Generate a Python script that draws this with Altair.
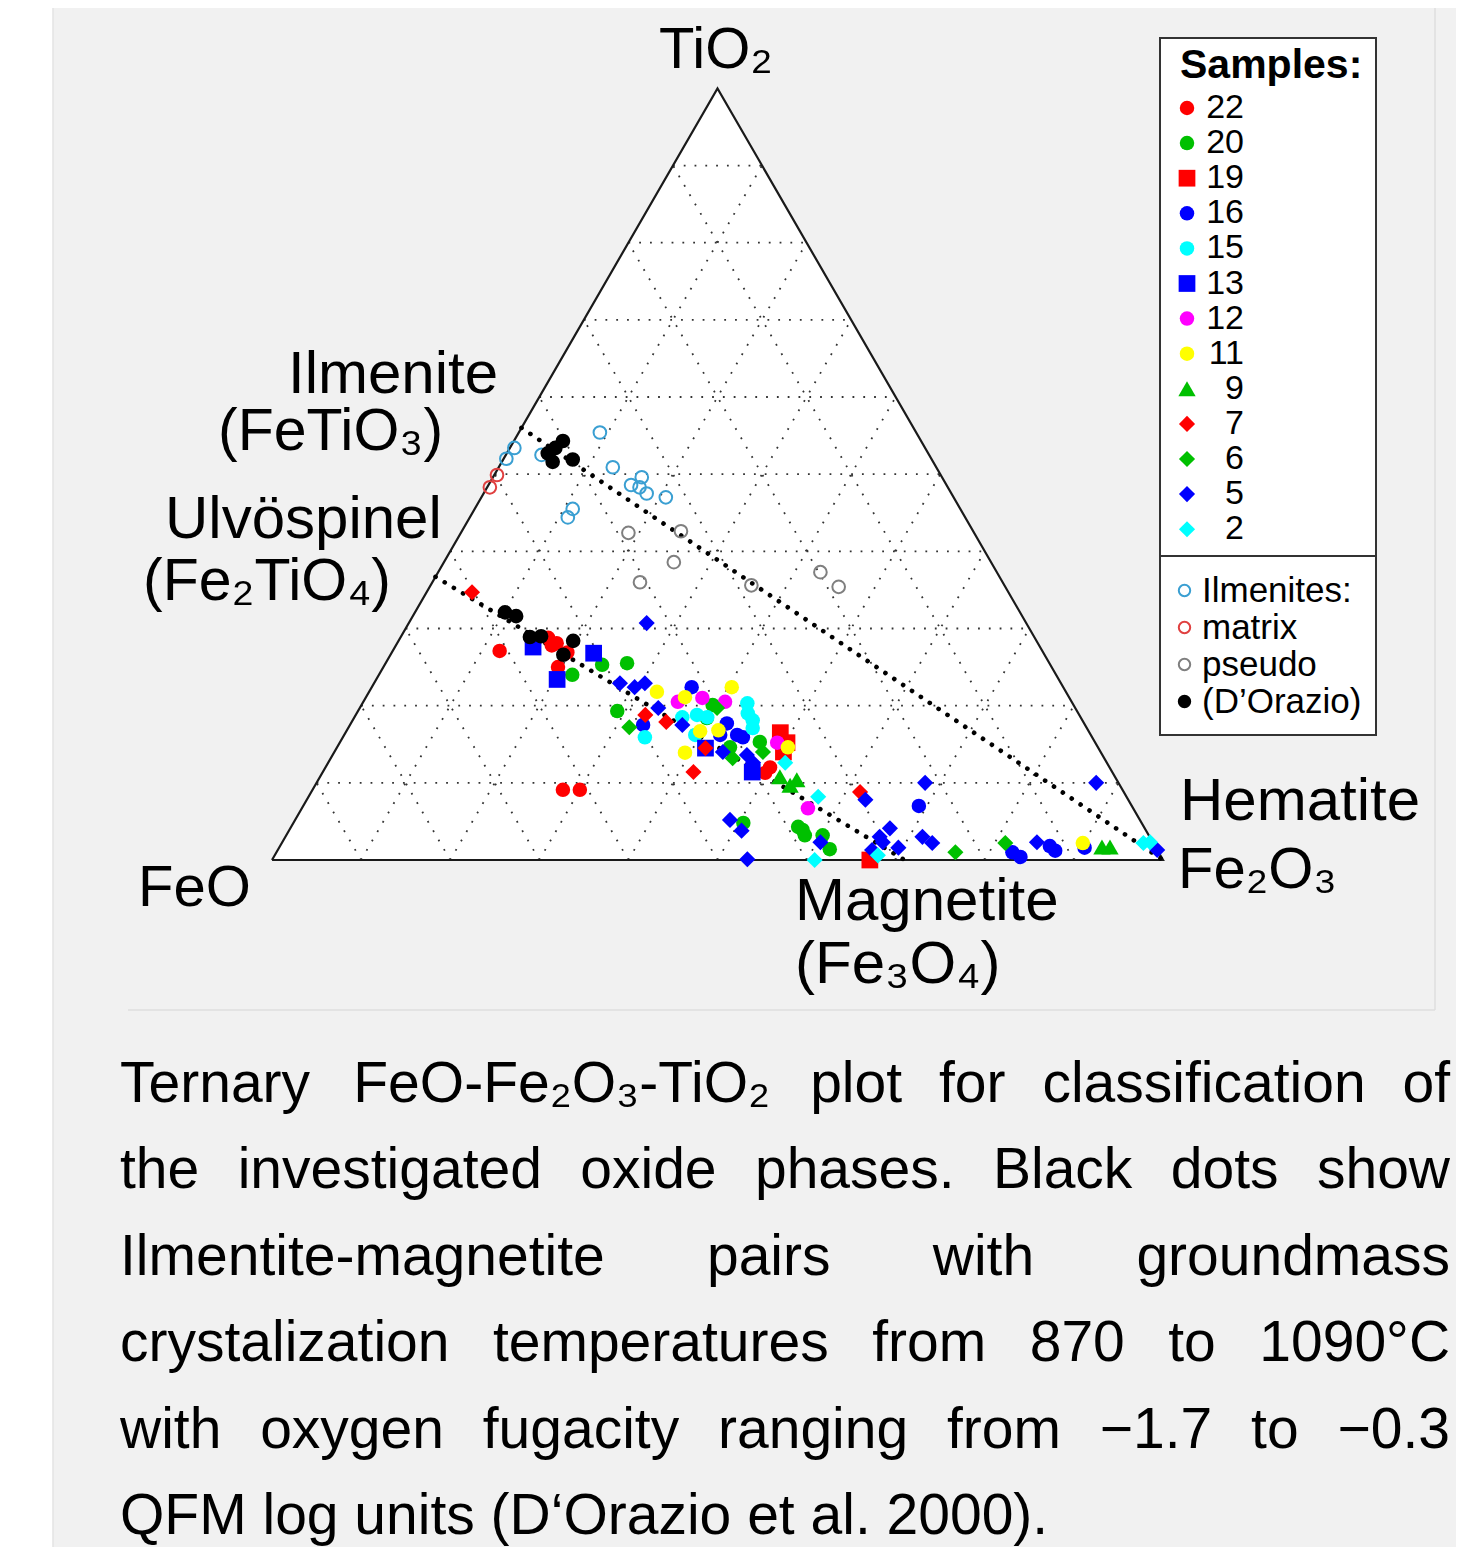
import altair as alt
import pandas as pd

W, H = 1448, 1539
FONT = "Liberation Sans"
X0, Y0, SIDE = 264.0, 852.0, 891.0

# ---------------- data: wt% TiO2 and Fe2O3 (FeO = remainder) ----------------
SAMPLE_ORDER = ["22", "20", "19", "16", "15", "13", "12", "11", "9", "7", "6", "5", "2"]
SAMPLE_COLORS = ["#ff0000", "#00c000", "#ff0000", "#0000ff", "#00ffff", "#0000ff", "#ff00ff",
                 "#ffff00", "#00c000", "#ff0000", "#00c000", "#0000ff", "#00ffff"]
SAMPLE_SHAPES = ["circle", "circle", "square", "circle", "circle", "square", "circle", "circle",
                 "triangle-up", "diamond", "diamond", "diamond", "diamond"]
SAMPLE_SIZES = [210, 210, 280, 210, 210, 280, 210, 210, 300, 260, 260, 260, 260]

S22_TIO2 = [27.1, 28.8, 28.1, 26.9, 25.0, 27.8, 9.1, 9.1, 12.0, 11.3]
S22_FE2O3 = [12.0, 16.6, 17.9, 19.7, 19.6, 17.5, 28.1, 30.0, 49.9, 49.7]
S20_TIO2 = [24.0, 25.3, 25.5, 19.3, 20.1, 15.3, 14.6, 4.8, 4.3, 3.2, 3.2, 1.4, 3.9, 18.4]
S20_FE2O3 = [21.7, 24.4, 27.1, 29.1, 39.4, 47.1, 44.1, 50.5, 56.9, 58.2, 60.2, 61.9, 57.6, 39.6]
S19_TIO2 = [16.5, 15.2, 0.0, 14.0]
S19_FE2O3 = [48.8, 50.2, 67.1, 50.4]
S16_TIO2 = [17.5, 22.4, 17.7, 16.2, 15.9, 16.2, 7.0, 1.0, 0.4, 1.8, 1.2, 1.6]
S16_FE2O3 = [32.9, 35.9, 42.2, 44.1, 44.9, 42.2, 69.1, 82.6, 83.8, 86.4, 87.3, 90.4]
S15_TIO2 = [15.9, 18.5, 18.8, 18.5, 20.3, 19.0, 18.1, 17.1, 16.2]
S15_FE2O3 = [33.9, 36.8, 38.3, 39.6, 43.2, 43.9, 44.9, 45.4, 39.4]
S13_TIO2 = [27.6, 26.8, 23.4, 14.5, 11.4]
S13_FE2O3 = [15.5, 22.7, 20.3, 41.4, 48.2]
S12_TIO2 = [20.5, 21.0, 20.5, 15.2, 6.7]
S12_FE2O3 = [35.3, 37.8, 40.6, 49.1, 56.8]
S11_TIO2 = [21.8, 21.1, 22.4, 13.9, 16.7, 16.8, 14.6, 2.2]
S11_FE2O3 = [32.3, 35.8, 40.4, 39.4, 39.7, 41.7, 50.6, 89.9]
S9_TIO2 = [10.8, 9.7, 10.4, 1.7, 1.7]
S9_FE2O3 = [51.6, 53.3, 53.7, 92.3, 93.2]
S7_TIO2 = [34.7, 18.8, 17.9, 11.4, 14.5, 8.8]
S7_FE2O3 = [5.1, 32.5, 35.3, 41.6, 41.4, 61.6]
S6_TIO2 = [17.2, 19.7, 13.2, 1.0, 2.2, 14.0]
S6_FE2O3 = [31.5, 40.1, 45.1, 76.2, 81.2, 48.1]
S5_TIO2 = [30.7, 22.9, 22.4, 22.9, 19.7, 17.5, 14.0, 13.6, 12.6, 5.2, 3.8, 0.1, 2.3, 7.8,
           10.0, 4.1, 3.0, 2.3, 1.3, 1.6, 3.0, 2.2, 2.3, 10.0, 1.3]
S5_FE2O3 = [26.7, 27.6, 29.5, 30.4, 33.5, 37.3, 43.6, 46.5, 47.7, 48.8, 50.8, 53.3, 60.4, 62.7,
            68.3, 67.3, 66.7, 67.4, 66.7, 69.5, 71.5, 73.0, 84.7, 87.5, 98.7]
S2_TIO2 = [12.6, 8.2, 0.0, 0.6, 2.2, 2.3]
S2_FE2O3 = [51.3, 57.2, 60.9, 67.7, 96.7, 97.4]

KIND_ORDER = ["Ilmenites:", "matrix", "pseudo", "(D’Orazio)"]
KIND_STROKE = ["#3a9fd2", "#e04040", "#7f7f7f", "#000000"]
KIND_FILL = ["transparent", "transparent", "transparent", "#000000"]
ILM_TIO2 = [55.4, 53.4, 52.0, 52.5, 50.9, 49.6, 48.6, 48.3, 47.5, 47.0, 45.5, 44.4]
ILM_FE2O3 = [9.1, 0.5, 0.3, 4.0, 12.8, 16.7, 16.0, 17.1, 18.3, 20.7, 11.0, 11.0]
MATRIX_TIO2 = [49.9, 48.3]
MATRIX_FE2O3 = [0.3, 0.3]
PSEUDO_TIO2 = [42.4, 42.6, 38.6, 36.0, 35.6, 37.3, 35.4]
PSEUDO_FE2O3 = [18.8, 24.6, 25.8, 23.3, 36.0, 42.9, 45.9]
DORAZIO_TIO2 = [54.3, 53.4, 52.7, 51.6, 51.9, 32.1, 31.6, 28.9, 29.0, 28.4, 26.6]
DORAZIO_FE2O3 = [5.5, 5.1, 4.6, 5.7, 7.8, 10.1, 11.6, 14.5, 15.7, 19.6, 19.4]

# reference joins (ilmenite-hematite, ulvospinel-magnetite): TiO2, Fe2O3 of end members
JOIN_T1 = [56.0, 36.7]
JOIN_H1 = [0.0, 0.0]
JOIN_T2 = [0.0, 0.0]
JOIN_H2 = [100.0, 71.0]

GRID_STEPS = [10, 20, 30, 40, 50, 60, 70, 80, 90]

ANN_TEXT = ["TiO₂", "Ilmenite", "(FeTiO₃)", "Ulvöspinel", "(Fe₂TiO₄)", "FeO",
            "Hematite", "Fe₂O₃", "Magnetite", "(Fe₃O₄)"]

CAPTION_LINES = [
    "Ternary FeO-Fe₂O₃-TiO₂ plot for classification of",
    "the investigated oxide phases. Black dots show",
    "Ilmentite-magnetite pairs with groundmass",
    "crystalization temperatures from 870 to 1090°C",
    "with oxygen fugacity ranging from −1.7 to −0.3",
    "QFM log units (D‘Orazio et al. 2000).",
]

# ---------------- tables ----------------
samples_list = [("22", S22_TIO2, S22_FE2O3), ("20", S20_TIO2, S20_FE2O3), ("19", S19_TIO2, S19_FE2O3),
                ("16", S16_TIO2, S16_FE2O3), ("15", S15_TIO2, S15_FE2O3), ("13", S13_TIO2, S13_FE2O3),
                ("12", S12_TIO2, S12_FE2O3), ("11", S11_TIO2, S11_FE2O3), ("9", S9_TIO2, S9_FE2O3),
                ("7", S7_TIO2, S7_FE2O3), ("6", S6_TIO2, S6_FE2O3), ("5", S5_TIO2, S5_FE2O3),
                ("2", S2_TIO2, S2_FE2O3)]
rows = []
for name, ts, hs in samples_list:
    for t, h in zip(ts, hs):
        rows.append({"sample": name, "tio2": t, "fe2o3": h})
samples_df = pd.DataFrame(rows)

krows = []
for name, ts, hs in [(KIND_ORDER[0], ILM_TIO2, ILM_FE2O3), (KIND_ORDER[1], MATRIX_TIO2, MATRIX_FE2O3),
                     (KIND_ORDER[2], PSEUDO_TIO2, PSEUDO_FE2O3), (KIND_ORDER[3], DORAZIO_TIO2, DORAZIO_FE2O3)]:
    for t, h in zip(ts, hs):
        krows.append({"kind": name, "tio2": t, "fe2o3": h})
kinds_df = pd.DataFrame(krows)

grows = []
for k in GRID_STEPS:
    grows.append({"t1": k, "h1": 0, "t2": k, "h2": 100 - k})      # const TiO2
    grows.append({"t1": 0, "h1": k, "t2": 100 - k, "h2": k})      # const Fe2O3
    grows.append({"t1": 0, "h1": 100 - k, "t2": 100 - k, "h2": 0})  # const FeO
grid_df = pd.DataFrame(grows)
join_df = pd.DataFrame({"t1": JOIN_T1, "h1": JOIN_H1, "t2": JOIN_T2, "h2": JOIN_H2})
corner_df = pd.DataFrame({"tio2": [0, 100, 0, 0], "fe2o3": [0, 0, 100, 0], "i": [0, 1, 2, 3]})

# ---------------- helpers ----------------
xs = alt.Scale(domain=[0, W], nice=False, zero=False)
ys = alt.Scale(domain=[0, H], nice=False, zero=False, reverse=True)


def PX(t, h):
    return f"{X0} + {SIDE}*(datum.{h} + datum.{t}/2)/100"


def PY(t):
    return f"{Y0} - {SIDE}*0.8660254*datum.{t}/100"


def X(f):
    return alt.X(f, type="quantitative", scale=xs, axis=None)


def Y(f):
    return alt.Y(f, type="quantitative", scale=ys, axis=None)


# ---------------- layout layers ----------------
panel = alt.Chart(pd.DataFrame({"a": [45], "b": [W + 2], "c": [-2], "d": [H + 2]})).mark_rect(
    color="#f1f1f1", stroke="#e3e3e3", strokeWidth=1.5
).encode(x=X("a"), x2="b", y=Y("c"), y2="d")

frame = alt.Chart(pd.DataFrame({"a": [1427, 120], "b": [1427, 1427], "c": [-2, 1002], "d": [1002, 1002]})).mark_rule(
    color="#dedede", strokeWidth=1.5
).encode(x=X("a"), x2="b", y=Y("c"), y2="d")

# legend frame (box and separator between the two legends)
legbox = alt.Chart(pd.DataFrame({"a": [1152], "b": [1368], "c": [30], "d": [727]})).mark_rect(
    fill="white", stroke="#333333", strokeWidth=2
).encode(x=X("a"), x2="b", y=Y("c"), y2="d")
legsep = alt.Chart(pd.DataFrame({"a": [1152], "b": [1368], "c": [548]})).mark_rule(
    color="#333333", strokeWidth=2
).encode(x=X("a"), x2="b", y=Y("c"))

tri_fill = alt.Chart(corner_df.iloc[:3]).transform_calculate(
    px=PX("tio2", "fe2o3"), py=PY("tio2"), base=str(Y0)
).mark_area(color="white").encode(x=X("px"), y=Y("py"), y2="base:Q")

grid = alt.Chart(grid_df).transform_calculate(
    x1=PX("t1", "h1"), y1=PY("t1"), x2=PX("t2", "h2"), y2=PY("t2")
).mark_rule(color="#333333", strokeWidth=1.8, strokeDash=[1.8, 9.0]).encode(
    x=X("x1"), y=Y("y1"), x2="x2:Q", y2="y2:Q")

tri_line = alt.Chart(corner_df).transform_calculate(
    px=PX("tio2", "fe2o3"), py=PY("tio2")
).mark_line(color="#1a1a1a", strokeWidth=2.2, strokeJoin="miter").encode(
    x=X("px"), y=Y("py"), order="i:Q")

joins = alt.Chart(join_df).transform_calculate(
    x1=PX("t1", "h1"), y1=PY("t1"), x2=PX("t2", "h2"), y2=PY("t2")
).mark_rule(color="black", strokeWidth=4.6, strokeCap="round", strokeDash=[0.1, 10.6]).encode(
    x=X("x1"), y=Y("y1"), x2="x2:Q", y2="y2:Q")

leg1 = alt.Legend(
    title="Samples:", orient="none", legendX=1172, legendY=38, padding=0,
    titleFont=FONT, titleFontSize=41, titleFontWeight="bold", titleColor="black", titlePadding=4,
    titleLimit=400,
    labelFont=FONT, labelFontSize=34, labelColor="black", labelAlign="right", labelOffset=40,
    symbolOffset=-10, rowPadding=1.1, symbolStrokeWidth=0,
)
pts = alt.Chart(samples_df).transform_calculate(
    px=PX("tio2", "fe2o3"), py=PY("tio2")
).mark_point(filled=True, opacity=1, strokeWidth=0).encode(
    x=X("px"), y=Y("py"),
    color=alt.Color("sample:N", scale=alt.Scale(domain=SAMPLE_ORDER, range=SAMPLE_COLORS), legend=leg1),
    shape=alt.Shape("sample:N", scale=alt.Scale(domain=SAMPLE_ORDER, range=SAMPLE_SHAPES), legend=leg1),
    size=alt.Size("sample:N", scale=alt.Scale(type="ordinal", domain=SAMPLE_ORDER, range=SAMPLE_SIZES), legend=leg1),
)

leg2 = alt.Legend(
    title=None, orient="none", legendX=1159, legendY=565, padding=0,
    labelFont=FONT, labelFontSize=35, labelColor="black", labelOffset=0,
    symbolOffset=0, rowPadding=1, symbolStrokeWidth=2, symbolSize=130,
)
kinds = alt.Chart(kinds_df).transform_calculate(
    px=PX("tio2", "fe2o3"), py=PY("tio2")
).mark_point(shape="circle", size=160, strokeWidth=2, opacity=1).encode(
    x=X("px"), y=Y("py"),
    fill=alt.Fill("kind:N", scale=alt.Scale(domain=KIND_ORDER, range=KIND_FILL), legend=leg2),
    stroke=alt.Stroke("kind:N", scale=alt.Scale(domain=KIND_ORDER, range=KIND_STROKE), legend=leg2),
)

# ---------------- annotation text ----------------
ann_df = pd.DataFrame({
    "label": ANN_TEXT,
    "x": [651, 280, 210, 157, 135, 130, 1172, 1170, 787, 787],
    "y": [60, 385, 442, 530, 592, 898, 812, 880, 912, 975],
    "fs": [58, 60, 59, 60, 59, 58, 60, 58, 60, 60],
})
ann_layers = []
for fs in sorted(ann_df["fs"].unique()):
    sub = ann_df[ann_df["fs"] == fs]
    ann_layers.append(alt.Chart(sub).mark_text(
        align="left", baseline="alphabetic", font=FONT, fontSize=int(fs), color="black"
    ).encode(x=X("x"), y=Y("y"), text="label:N"))

# ---------------- caption (justified) ----------------
AW = {' ': 278, 'a': 556, 'b': 556, 'c': 500, 'd': 556, 'e': 556, 'f': 278, 'g': 556, 'h': 556, 'i': 222,
      'j': 222, 'k': 500, 'l': 222, 'm': 833, 'n': 556, 'o': 556, 'p': 556, 'q': 556, 'r': 333, 's': 500,
      't': 278, 'u': 556, 'v': 500, 'w': 722, 'x': 500, 'y': 500, 'z': 500, 'A': 667, 'B': 667, 'C': 722,
      'D': 722, 'E': 667, 'F': 611, 'G': 778, 'H': 722, 'I': 278, 'M': 833, 'O': 778, 'Q': 778, 'T': 611,
      '-': 333, '.': 278, ',': 278, '(': 333, ')': 333, '°': 400, '−': 584, '‘': 222, '’': 222,
      '₂': 400, '₃': 400}
CAP_FS = 57
CAP_LEFT, CAP_RIGHT = 112, 1442


def tw(s):
    return sum(AW.get(c, 556) for c in s) * CAP_FS / 1000.0


cap_rows = []
for li, line in enumerate(CAPTION_LINES):
    yb = 1094 + 86.4 * li
    if li == len(CAPTION_LINES) - 1:
        cap_rows.append({"w": line, "x": CAP_LEFT, "y": yb})
        continue
    words = line.split(" ")
    total = sum(tw(w) for w in words)
    gap = (CAP_RIGHT - CAP_LEFT - total) / (len(words) - 1)
    x = CAP_LEFT
    for w in words:
        cap_rows.append({"w": w, "x": x, "y": yb})
        x += tw(w) + gap
cap_df = pd.DataFrame(cap_rows)
caption = alt.Chart(cap_df).mark_text(
    align="left", baseline="alphabetic", font=FONT, fontSize=CAP_FS, color="black"
).encode(x=X("x"), y=Y("y"), text="w:N")

chart = alt.layer(
    panel, frame, legbox, legsep, *ann_layers, caption, tri_fill, grid, tri_line, joins, pts, kinds
).properties(
    width=W, height=H, padding=0, autosize=alt.AutoSizeParams(type="none"), background="white"
).configure_view(stroke=None)

chart.save("out.html", embed_options={"renderer": "svg", "actions": False})
